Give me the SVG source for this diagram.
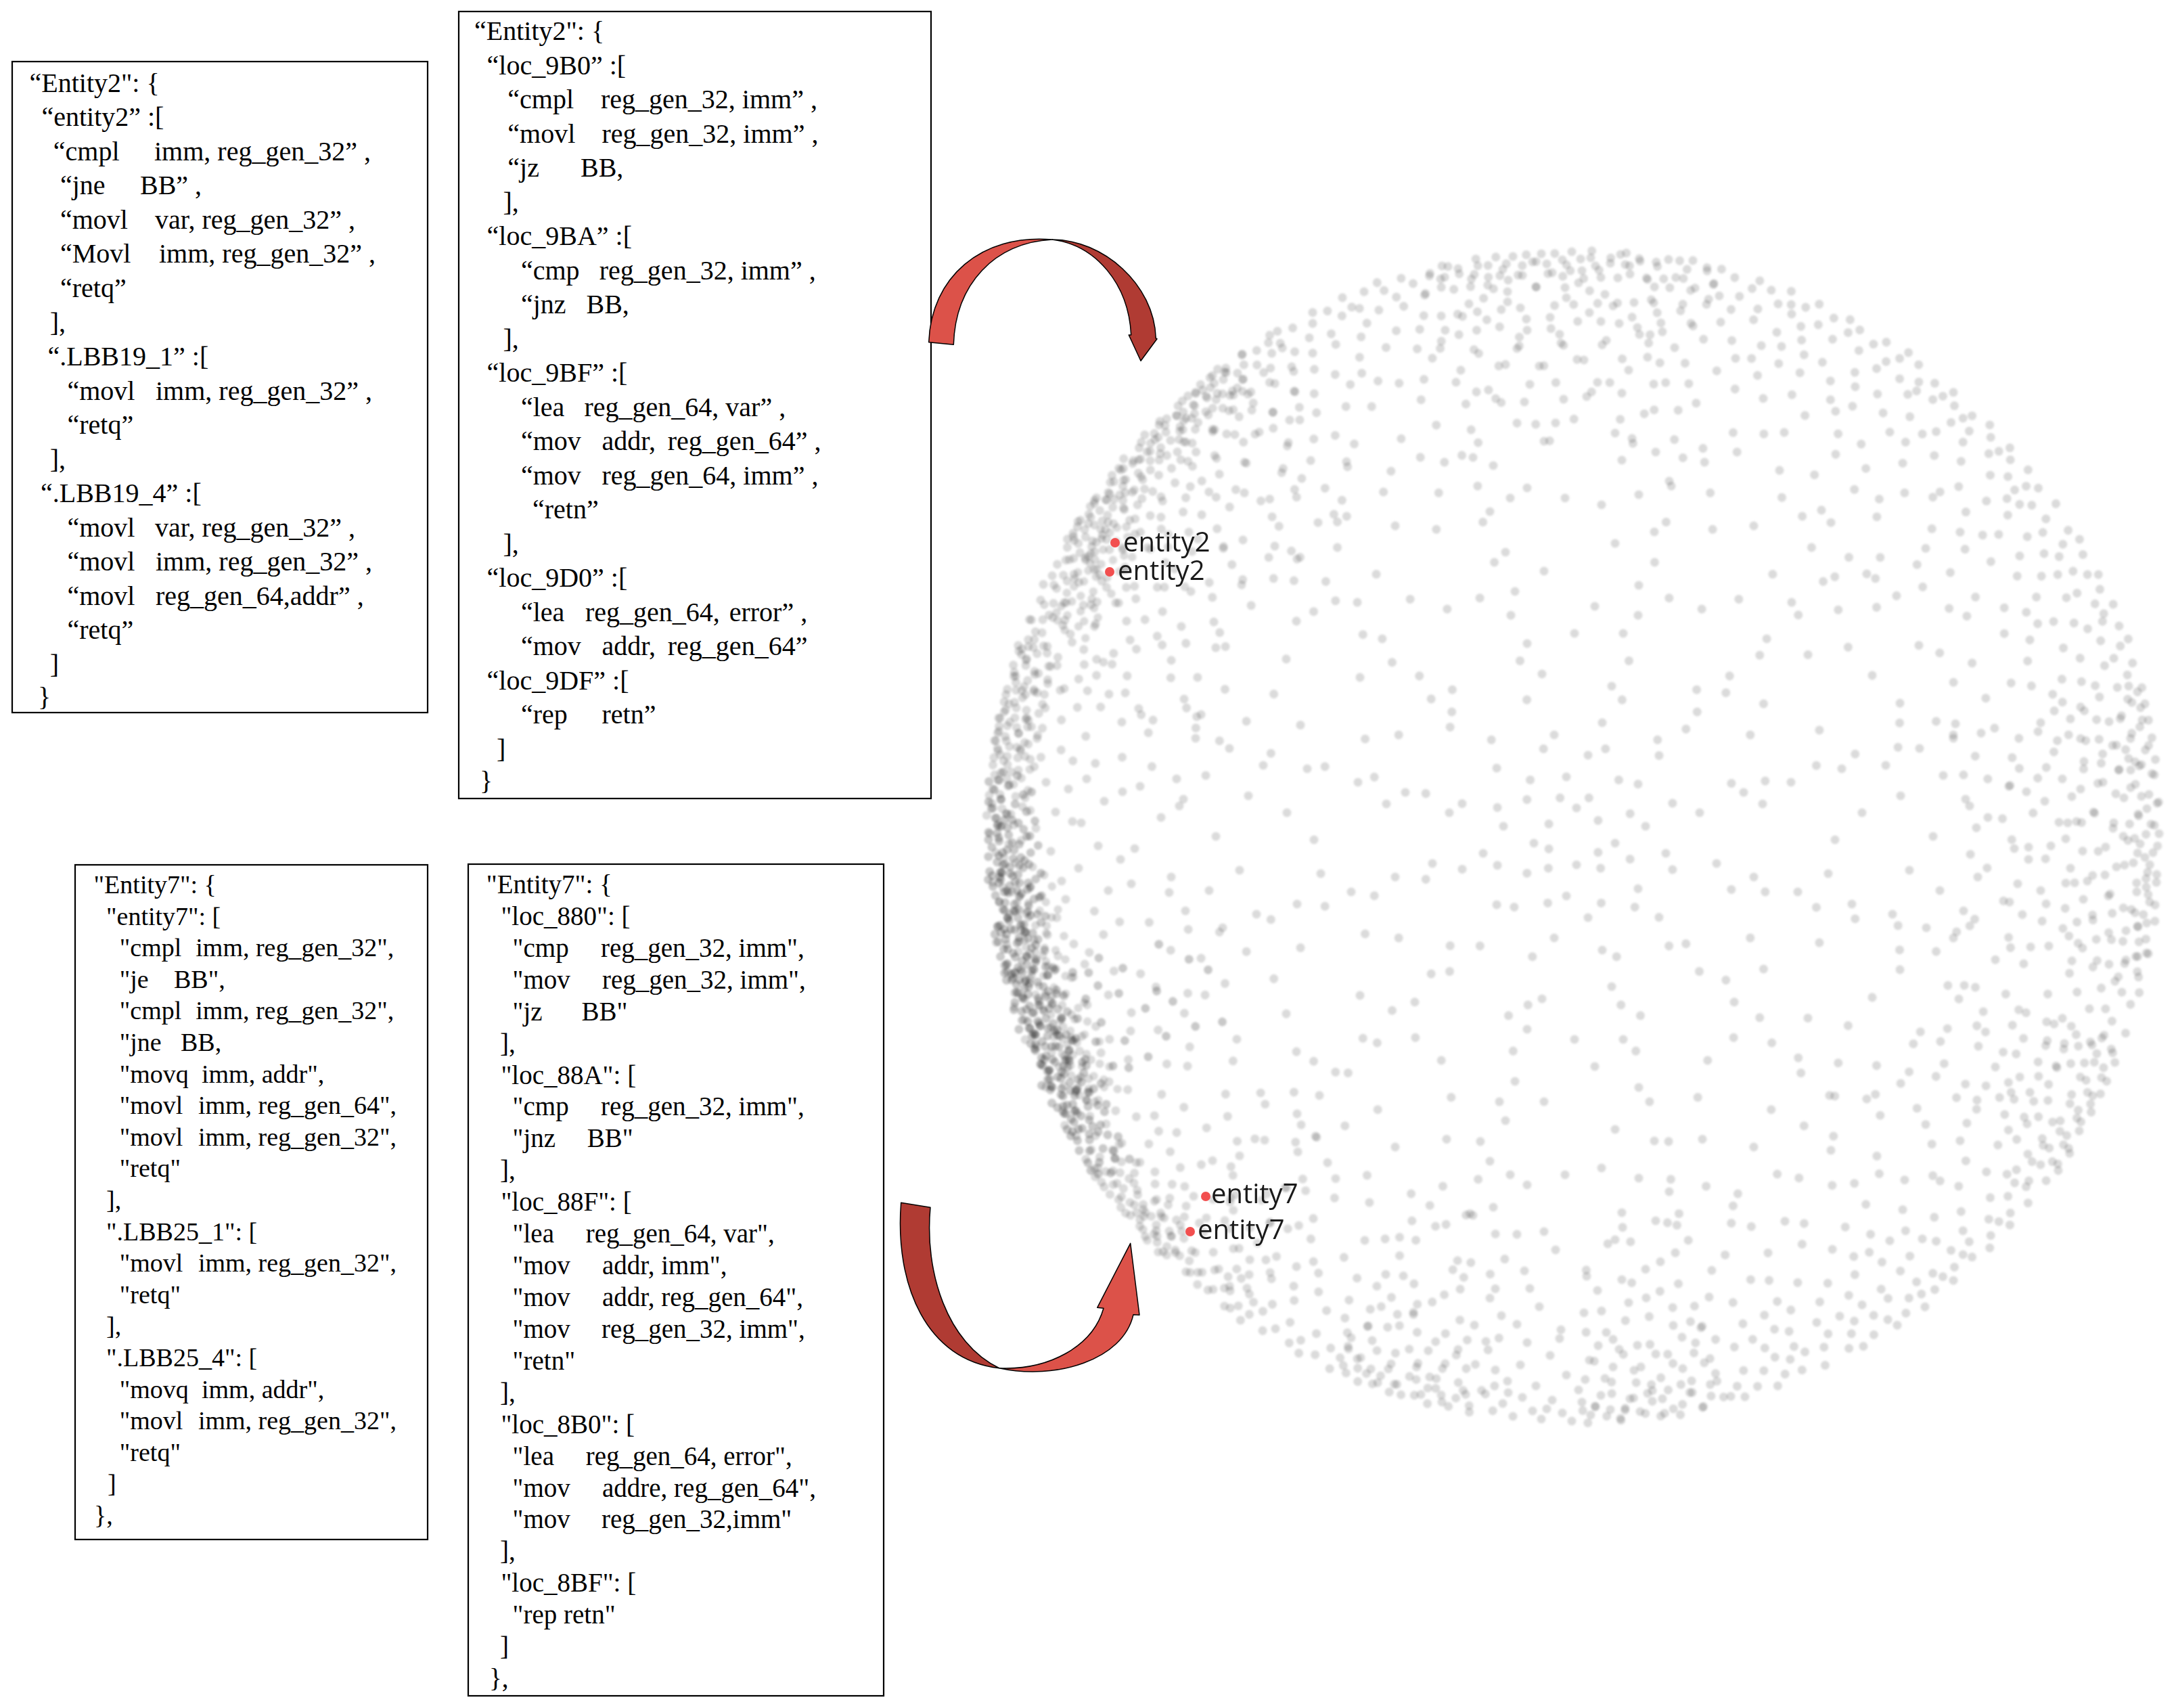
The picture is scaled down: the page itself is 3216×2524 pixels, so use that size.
<svg xmlns="http://www.w3.org/2000/svg" width="3216" height="2524" viewBox="0 0 3216 2524">
<style>
.box{fill:#fff;stroke:#000;stroke-width:2.2}
.s40{font-family:"Liberation Serif","Times New Roman",serif;font-size:40px;fill:#000}
.s38{font-family:"Liberation Serif","Times New Roman",serif;font-size:38px;fill:#000}
.s39{font-family:"Liberation Serif","Times New Roman",serif;font-size:39px;fill:#000}
.lbl{font-family:"Open Sans","Noto Sans",sans-serif;font-size:40px;fill:#1a1a1a}
.red{fill:#f24f4f}
.arL{fill:#DC5249;stroke:#000;stroke-width:1.5;stroke-linejoin:round}
.arD{fill:#B03B33;stroke:#000;stroke-width:1.5;stroke-linejoin:round}
</style>
<defs>
<filter id="soft" x="-5%" y="-5%" width="110%" height="110%"><feGaussianBlur stdDeviation="1.4"/></filter>
<g id="R1">
<circle cx="-106" cy="-838" r="6.5"/><circle cx="-91" cy="-857" r="6.5"/><circle cx="-77" cy="-829" r="6.5"/><circle cx="-62" cy="-849" r="6.5"/><circle cx="-49" cy="-861" r="6.5"/><circle cx="-33" cy="-833" r="6.5"/><circle cx="-18" cy="-852" r="6.5"/><circle cx="-4" cy="-864" r="6.5"/><circle cx="11" cy="-836" r="6.5"/><circle cx="24" cy="-855" r="6.5"/><circle cx="39" cy="-826" r="6.5"/><circle cx="53" cy="-847" r="6.5"/><circle cx="68" cy="-860" r="6.5"/><circle cx="82" cy="-831" r="6.5"/><circle cx="97" cy="-850" r="6.5"/><circle cx="108" cy="-823" r="6.5"/><circle cx="-98" cy="-822" r="6.5"/><circle cx="-41" cy="-846" r="6.5"/><circle cx="31" cy="-843" r="6.5"/><circle cx="75" cy="-845" r="6.5"/>
<circle cx="-99" cy="-805" r="6.5"/><circle cx="-80" cy="-781" r="6.5"/><circle cx="-57" cy="-812" r="6.5"/><circle cx="-36" cy="-767" r="6.5"/><circle cx="-12" cy="-796" r="6.5"/><circle cx="6" cy="-818" r="6.5"/><circle cx="22" cy="-774" r="6.5"/><circle cx="45" cy="-801" r="6.5"/><circle cx="66" cy="-758" r="6.5"/><circle cx="88" cy="-789" r="6.5"/><circle cx="-70" cy="-748" r="6.5"/><circle cx="-22" cy="-742" r="6.5"/><circle cx="57" cy="-784" r="6.5"/><circle cx="93" cy="-752" r="6.5"/>
<circle cx="-85" cy="-721" r="6.5"/><circle cx="-52" cy="-695" r="6.5"/><circle cx="-20" cy="-729" r="6.5"/><circle cx="14" cy="-704" r="6.5"/><circle cx="47" cy="-733" r="6.5"/><circle cx="80" cy="-689" r="6.5"/><circle cx="-66" cy="-668" r="6.5"/><circle cx="34" cy="-671" r="6.5"/>
<circle cx="-74" cy="-642" r="6.5"/><circle cx="-28" cy="-611" r="6.5"/><circle cx="18" cy="-650" r="6.5"/><circle cx="60" cy="-596" r="6.5"/><circle cx="-45" cy="-584" r="6.5"/><circle cx="70" cy="-655" r="6.5"/>
</g>
<g id="R2">
<circle cx="-103" cy="-851" r="6.5"/><circle cx="-86" cy="-830" r="6.5"/><circle cx="-70" cy="-862" r="6.5"/><circle cx="-58" cy="-838" r="6.5"/><circle cx="-43" cy="-824" r="6.5"/><circle cx="-27" cy="-858" r="6.5"/><circle cx="-13" cy="-841" r="6.5"/><circle cx="0" cy="-827" r="6.5"/><circle cx="15" cy="-859" r="6.5"/><circle cx="29" cy="-834" r="6.5"/><circle cx="44" cy="-850" r="6.5"/><circle cx="60" cy="-823" r="6.5"/><circle cx="72" cy="-855" r="6.5"/><circle cx="87" cy="-838" r="6.5"/><circle cx="101" cy="-861" r="6.5"/><circle cx="-7" cy="-866" r="6.5"/><circle cx="52" cy="-864" r="6.5"/><circle cx="106" cy="-842" r="6.5"/><circle cx="-96" cy="-815" r="6.5"/><circle cx="22" cy="-812" r="6.5"/>
<circle cx="-91" cy="-792" r="6.5"/><circle cx="-73" cy="-766" r="6.5"/><circle cx="-49" cy="-801" r="6.5"/><circle cx="-30" cy="-777" r="6.5"/><circle cx="-6" cy="-759" r="6.5"/><circle cx="12" cy="-790" r="6.5"/><circle cx="35" cy="-768" r="6.5"/><circle cx="58" cy="-806" r="6.5"/><circle cx="79" cy="-772" r="6.5"/><circle cx="96" cy="-797" r="6.5"/><circle cx="-84" cy="-745" r="6.5"/><circle cx="-15" cy="-810" r="6.5"/><circle cx="47" cy="-744" r="6.5"/><circle cx="70" cy="-750" r="6.5"/>
<circle cx="-79" cy="-712" r="6.5"/><circle cx="-44" cy="-736" r="6.5"/><circle cx="-10" cy="-690" r="6.5"/><circle cx="25" cy="-719" r="6.5"/><circle cx="58" cy="-700" r="6.5"/><circle cx="85" cy="-728" r="6.5"/><circle cx="-60" cy="-676" r="6.5"/><circle cx="8" cy="-665" r="6.5"/>
<circle cx="-62" cy="-630" r="6.5"/><circle cx="-15" cy="-648" r="6.5"/><circle cx="35" cy="-603" r="6.5"/><circle cx="72" cy="-637" r="6.5"/><circle cx="-70" cy="-590" r="6.5"/><circle cx="10" cy="-582" r="6.5"/>
</g>
<g id="R3">
<circle cx="-108" cy="-829" r="6.5"/><circle cx="-95" cy="-848" r="6.5"/><circle cx="-80" cy="-862" r="6.5"/><circle cx="-66" cy="-835" r="6.5"/><circle cx="-51" cy="-855" r="6.5"/><circle cx="-37" cy="-827" r="6.5"/><circle cx="-22" cy="-847" r="6.5"/><circle cx="-9" cy="-859" r="6.5"/><circle cx="5" cy="-832" r="6.5"/><circle cx="19" cy="-851" r="6.5"/><circle cx="34" cy="-863" r="6.5"/><circle cx="48" cy="-838" r="6.5"/><circle cx="63" cy="-852" r="6.5"/><circle cx="78" cy="-826" r="6.5"/><circle cx="92" cy="-858" r="6.5"/><circle cx="105" cy="-836" r="6.5"/><circle cx="-87" cy="-820" r="6.5"/><circle cx="-29" cy="-865" r="6.5"/><circle cx="41" cy="-822" r="6.5"/><circle cx="70" cy="-866" r="6.5"/>
<circle cx="-97" cy="-780" r="6.5"/><circle cx="-76" cy="-803" r="6.5"/><circle cx="-54" cy="-760" r="6.5"/><circle cx="-33" cy="-790" r="6.5"/><circle cx="-9" cy="-772" r="6.5"/><circle cx="16" cy="-801" r="6.5"/><circle cx="38" cy="-756" r="6.5"/><circle cx="61" cy="-790" r="6.5"/><circle cx="82" cy="-770" r="6.5"/><circle cx="100" cy="-812" r="6.5"/><circle cx="-62" cy="-786" r="6.5"/><circle cx="5" cy="-748" r="6.5"/><circle cx="27" cy="-783" r="6.5"/><circle cx="-88" cy="-756" r="6.5"/>
<circle cx="-82" cy="-700" r="6.5"/><circle cx="-48" cy="-726" r="6.5"/><circle cx="-16" cy="-709" r="6.5"/><circle cx="20" cy="-737" r="6.5"/><circle cx="52" cy="-682" r="6.5"/><circle cx="77" cy="-714" r="6.5"/><circle cx="-30" cy="-672" r="6.5"/><circle cx="40" cy="-710" r="6.5"/>
<circle cx="-55" cy="-655" r="6.5"/><circle cx="-8" cy="-620" r="6.5"/><circle cx="40" cy="-640" r="6.5"/><circle cx="75" cy="-600" r="6.5"/><circle cx="-76" cy="-612" r="6.5"/><circle cx="15" cy="-587" r="6.5"/>
</g>
<g id="D">
<circle cx="-88" cy="-842" r="6.5"/><circle cx="-80" cy="-859" r="6.5"/><circle cx="-73" cy="-826" r="6.5"/><circle cx="-66" cy="-849" r="6.5"/><circle cx="-58" cy="-864" r="6.5"/><circle cx="-51" cy="-834" r="6.5"/><circle cx="-44" cy="-853" r="6.5"/><circle cx="-37" cy="-818" r="6.5"/><circle cx="-30" cy="-845" r="6.5"/><circle cx="-22" cy="-861" r="6.5"/><circle cx="-15" cy="-831" r="6.5"/><circle cx="-8" cy="-851" r="6.5"/><circle cx="0" cy="-866" r="6.5"/><circle cx="7" cy="-838" r="6.5"/><circle cx="14" cy="-822" r="6.5"/><circle cx="21" cy="-856" r="6.5"/><circle cx="28" cy="-840" r="6.5"/><circle cx="35" cy="-862" r="6.5"/><circle cx="42" cy="-827" r="6.5"/><circle cx="49" cy="-848" r="6.5"/>
<circle cx="56" cy="-815" r="6.5"/><circle cx="63" cy="-858" r="6.5"/><circle cx="70" cy="-836" r="6.5"/><circle cx="77" cy="-851" r="6.5"/><circle cx="84" cy="-824" r="6.5"/><circle cx="89" cy="-845" r="6.5"/><circle cx="-84" cy="-808" r="6.5"/><circle cx="-47" cy="-806" r="6.5"/><circle cx="-5" cy="-805" r="6.5"/><circle cx="31" cy="-810" r="6.5"/><circle cx="60" cy="-803" r="6.5"/><circle cx="-62" cy="-822" r="6.5"/><circle cx="18" cy="-843" r="6.5"/><circle cx="-26" cy="-828" r="6.5"/><circle cx="45" cy="-866" r="6.5"/><circle cx="-11" cy="-866" r="6.5"/><circle cx="75" cy="-866" r="6.5"/><circle cx="-70" cy="-866" r="6.5"/><circle cx="-36" cy="-866" r="6.5"/><circle cx="10" cy="-853" r="6.5"/>
</g>
<g id="I1">
<circle cx="3" cy="-42" r="6.5"/><circle cx="-12" cy="-88" r="6.5"/><circle cx="20" cy="-120" r="6.5"/><circle cx="-30" cy="-150" r="6.5"/><circle cx="41" cy="-168" r="6.5"/><circle cx="55" cy="-222" r="6.5"/><circle cx="-48" cy="-240" r="6.5"/><circle cx="-70" cy="-285" r="6.5"/><circle cx="72" cy="-300" r="6.5"/><circle cx="30" cy="-340" r="6.5"/><circle cx="-88" cy="-362" r="6.5"/><circle cx="95" cy="-371" r="6.5"/><circle cx="-45" cy="-392" r="6.5"/><circle cx="-102" cy="-420" r="6.5"/><circle cx="60" cy="-433" r="6.5"/>
<circle cx="118" cy="-450" r="6.5"/><circle cx="-125" cy="-480" r="6.5"/><circle cx="40" cy="-490" r="6.5"/><circle cx="95" cy="-505" r="6.5"/><circle cx="-70" cy="-515" r="6.5"/><circle cx="140" cy="-525" r="6.5"/><circle cx="-120" cy="-548" r="6.5"/><circle cx="70" cy="-556" r="6.5"/><circle cx="-150" cy="-560" r="6.5"/><circle cx="120" cy="-568" r="6.5"/><circle cx="-95" cy="-500" r="6.5"/><circle cx="-14" cy="-500" r="6.5"/><circle cx="0" cy="-300" r="6.5"/>
</g>
<g id="I2">
<circle cx="-10" cy="-60" r="6.5"/><circle cx="15" cy="-105" r="6.5"/><circle cx="-25" cy="-135" r="6.5"/><circle cx="35" cy="-185" r="6.5"/><circle cx="-40" cy="-210" r="6.5"/><circle cx="-60" cy="-265" r="6.5"/><circle cx="48" cy="-278" r="6.5"/><circle cx="80" cy="-320" r="6.5"/><circle cx="-82" cy="-330" r="6.5"/><circle cx="-55" cy="-375" r="6.5"/><circle cx="100" cy="-395" r="6.5"/><circle cx="-100" cy="-410" r="6.5"/><circle cx="35" cy="-425" r="6.5"/><circle cx="105" cy="-460" r="6.5"/><circle cx="-115" cy="-470" r="6.5"/>
<circle cx="60" cy="-482" r="6.5"/><circle cx="-50" cy="-495" r="6.5"/><circle cx="130" cy="-510" r="6.5"/><circle cx="-135" cy="-520" r="6.5"/><circle cx="-80" cy="-540" r="6.5"/><circle cx="90" cy="-545" r="6.5"/><circle cx="145" cy="-560" r="6.5"/><circle cx="-110" cy="-575" r="6.5"/><circle cx="55" cy="-578" r="6.5"/><circle cx="65" cy="-250" r="6.5"/><circle cx="-5" cy="-385" r="6.5"/><circle cx="0" cy="-530" r="6.5"/>
</g>
</defs>

<g id="box1">
<rect class="box" x="18" y="91" width="614" height="962"/>
<g class="s40">
<text x="43.5" y="135.6">“Entity2":  {</text>
<text x="61.4" y="186.2">“entity2” :[</text>
<text x="78.8" y="236.7">“cmpl<tspan x="228">imm, reg_gen_32” ,</tspan></text>
<text x="89" y="287.3">“jne<tspan x="207">BB” ,</tspan></text>
<text x="89" y="337.8">“movl<tspan x="229">var, reg_gen_32” ,</tspan></text>
<text x="89" y="388.4">“Movl<tspan x="235">imm, reg_gen_32” ,</tspan></text>
<text x="89" y="438.9">“retq”</text>
<text x="73.8" y="489.5">],</text>
<text x="70.5" y="540">“.LBB19_1” :[</text>
<text x="99.5" y="590.6">“movl<tspan x="230">imm, reg_gen_32” ,</tspan></text>
<text x="99.5" y="641.1">“retq”</text>
<text x="73.8" y="691.7">],</text>
<text x="60" y="742.2">“.LBB19_4” :[</text>
<text x="99.5" y="792.8">“movl<tspan x="229">var, reg_gen_32” ,</tspan></text>
<text x="99.5" y="843.3">“movl<tspan x="230">imm, reg_gen_32” ,</tspan></text>
<text x="99.5" y="893.9">“movl<tspan x="230">reg_gen_64,addr” ,</tspan></text>
<text x="99.5" y="944.4">“retq”</text>
<text x="73.8" y="995">]</text>
<text x="56" y="1043">}</text>
</g>
</g>

<g id="box2">
<rect class="box" x="678" y="17" width="698" height="1163"/>
<g class="s40">
<text x="701" y="59.3">“Entity2":  {</text>
<text x="719.6" y="109.8">“loc_9B0”  :[</text>
<text x="750.3" y="160.3">“cmpl<tspan x="888">reg_gen_32, imm” ,</tspan></text>
<text x="750.3" y="210.8">“movl<tspan x="889.5">reg_gen_32, imm” ,</tspan></text>
<text x="750.3" y="261.3">“jz<tspan x="858">BB,</tspan></text>
<text x="743.5" y="311.8">],</text>
<text x="719.6" y="362.3">“loc_9BA”  :[</text>
<text x="770" y="412.8">“cmp<tspan x="885.8">reg_gen_32, imm” ,</tspan></text>
<text x="770" y="463.3">“jnz<tspan x="866.5">BB,</tspan></text>
<text x="743.5" y="513.8">],</text>
<text x="719.6" y="564.3">“loc_9BF”  :[</text>
<text x="770" y="614.8">“lea<tspan x="863.5">reg_gen_64, var” ,</tspan></text>
<text x="770" y="665.3">“mov<tspan x="889.5">addr,</tspan><tspan x="986.8">reg_gen_64” ,</tspan></text>
<text x="770" y="715.8">“mov<tspan x="889.5">reg_gen_64, imm” ,</tspan></text>
<text x="787" y="766.3">“retn”</text>
<text x="743.5" y="816.8">],</text>
<text x="719.6" y="867.3">“loc_9D0”  :[</text>
<text x="770" y="917.8">“lea<tspan x="865">reg_gen_64,</tspan><tspan x="1077.7">error” ,</tspan></text>
<text x="770" y="968.3">“mov<tspan x="889.5">addr,</tspan><tspan x="986.8">reg_gen_64”</tspan></text>
<text x="719.6" y="1018.8">“loc_9DF”  :[</text>
<text x="770" y="1069.3">“rep<tspan x="889.5">retn”</tspan></text>
<text x="734" y="1119.8">]</text>
<text x="709" y="1167">}</text>
</g>
</g>

<g id="box3">
<rect class="box" x="111" y="1278" width="521" height="997"/>
<g class="s38">
<text x="138.6" y="1320">"Entity7": {</text>
<text x="157" y="1366.6">"entity7": [</text>
<text x="176.8" y="1413.2">"cmpl<tspan x="289.3">imm, reg_gen_32",</tspan></text>
<text x="176.8" y="1459.8">"je<tspan x="257">BB",</tspan></text>
<text x="176.8" y="1506.4">"cmpl<tspan x="289.3">imm, reg_gen_32",</tspan></text>
<text x="176.8" y="1553">"jne<tspan x="267">BB,</tspan></text>
<text x="176.8" y="1599.6">"movq<tspan x="298">imm, addr",</tspan></text>
<text x="176.8" y="1646.2">"movl<tspan x="292.9">imm, reg_gen_64",</tspan></text>
<text x="176.8" y="1692.8">"movl<tspan x="292.9">imm, reg_gen_32",</tspan></text>
<text x="176.8" y="1739.4">"retq"</text>
<text x="157" y="1786">],</text>
<text x="157" y="1832.6">".LBB25_1": [</text>
<text x="176.8" y="1879.2">"movl<tspan x="292.9">imm, reg_gen_32",</tspan></text>
<text x="176.8" y="1925.8">"retq"</text>
<text x="157" y="1972.4">],</text>
<text x="157" y="2019">".LBB25_4": [</text>
<text x="176.8" y="2065.6">"movq<tspan x="298">imm, addr",</tspan></text>
<text x="176.8" y="2112.2">"movl<tspan x="292.9">imm, reg_gen_32",</tspan></text>
<text x="176.8" y="2158.8">"retq"</text>
<text x="159" y="2205.4">]</text>
<text x="139" y="2252">},</text>
</g>
</g>

<g id="box4">
<rect class="box" x="692" y="1277" width="614" height="1229"/>
<g class="s39">
<text x="718.8" y="1320">"Entity7": {</text>
<text x="740.4" y="1366.9">"loc_880": [</text>
<text x="757.6" y="1413.8">"cmp<tspan x="888">reg_gen_32, imm",</tspan></text>
<text x="757.6" y="1460.8">"mov<tspan x="890">reg_gen_32, imm",</tspan></text>
<text x="757.6" y="1507.7">"jz<tspan x="859.6">BB"</tspan></text>
<text x="739" y="1554.6">],</text>
<text x="740.4" y="1601.5">"loc_88A": [</text>
<text x="757.6" y="1648.4">"cmp<tspan x="888">reg_gen_32, imm",</tspan></text>
<text x="757.6" y="1695.4">"jnz<tspan x="867.8">BB"</tspan></text>
<text x="739" y="1742.3">],</text>
<text x="740.4" y="1789.2">"loc_88F": [</text>
<text x="757.6" y="1836.1">"lea<tspan x="865.7">reg_gen_64, var",</tspan></text>
<text x="757.6" y="1883">"mov<tspan x="890">addr, imm",</tspan></text>
<text x="757.6" y="1930">"mov<tspan x="890">addr, reg_gen_64",</tspan></text>
<text x="757.6" y="1976.9">"mov<tspan x="889">reg_gen_32, imm",</tspan></text>
<text x="757.6" y="2023.8">"retn"</text>
<text x="739" y="2070.7">],</text>
<text x="740.4" y="2117.6">"loc_8B0": [</text>
<text x="757.6" y="2164.6">"lea<tspan x="865.7">reg_gen_64, error",</tspan></text>
<text x="757.6" y="2211.5">"mov<tspan x="890">addre, reg_gen_64",</tspan></text>
<text x="757.6" y="2258.4">"mov<tspan x="889">reg_gen_32,imm"</tspan></text>
<text x="739" y="2305.3">],</text>
<text x="740.4" y="2352.2">"loc_8BF": [</text>
<text x="757.6" y="2399.2">"rep retn"</text>
<text x="739" y="2446.1">]</text>
<text x="723" y="2493">},</text>
</g>
</g>

<g id="scatter">
<g transform="translate(2327,1236)" fill="#000" filter="url(#soft)">
<g fill-opacity="0.14">
<use href="#I1"/><use href="#I2" transform="rotate(30)"/><use href="#I1" transform="rotate(60) scale(-1,1)"/><use href="#I2" transform="rotate(90) scale(-1,1)"/><use href="#I1" transform="rotate(120)"/><use href="#I2" transform="rotate(150)"/><use href="#I1" transform="rotate(180) scale(-1,1)"/><use href="#I2" transform="rotate(210) scale(-1,1)"/><use href="#I1" transform="rotate(240)"/><use href="#I2" transform="rotate(270)"/><use href="#I1" transform="rotate(300) scale(-1,1)"/><use href="#I2" transform="rotate(330) scale(-1,1)"/>
<use href="#R1"/><use href="#R2" transform="rotate(15)"/><use href="#R3" transform="rotate(30)"/><use href="#R1" transform="rotate(45) scale(-1,1)"/><use href="#R2" transform="rotate(60)"/><use href="#R3" transform="rotate(75) scale(-1,1)"/><use href="#R1" transform="rotate(90)"/><use href="#R2" transform="rotate(105) scale(-1,1)"/><use href="#R3" transform="rotate(120)"/><use href="#R1" transform="rotate(135)"/><use href="#R2" transform="rotate(150) scale(-1,1)"/><use href="#R3" transform="rotate(165)"/><use href="#R1" transform="rotate(180) scale(-1,1)"/><use href="#R2" transform="rotate(195)"/><use href="#R3" transform="rotate(210)"/><use href="#R1" transform="rotate(225)"/><use href="#R2" transform="rotate(240) scale(-1,1)"/><use href="#R3" transform="rotate(255)"/><use href="#R1" transform="rotate(270) scale(-1,1)"/><use href="#R2" transform="rotate(285)"/><use href="#R3" transform="rotate(300) scale(-1,1)"/><use href="#R1" transform="rotate(315)"/><use href="#R2" transform="rotate(330)"/><use href="#R3" transform="rotate(345) scale(-1,1)"/>
<use href="#R1" transform="rotate(292)"/><use href="#R3" transform="rotate(307) scale(-1,1)"/><use href="#R2" transform="rotate(322)"/><use href="#R1" transform="rotate(352) scale(-1,1)"/><use href="#R3" transform="rotate(7)"/><use href="#R2" transform="rotate(82) scale(-1,1)"/><use href="#R1" transform="rotate(97)"/><use href="#R3" transform="rotate(118)"/><use href="#R2" transform="rotate(172)"/><use href="#R1" transform="rotate(197) scale(-1,1)"/><use href="#R3" transform="rotate(222)"/>
</g>
<g fill-opacity="0.21">
<use href="#D" transform="rotate(240)"/><use href="#D" transform="rotate(244.5) scale(-0.99,0.99)"/><use href="#D" transform="rotate(251.3) scale(0.985)"/><use href="#D" transform="rotate(255.8) scale(-1,1)"/><use href="#D" transform="rotate(261.2) scale(0.992)"/><use href="#D" transform="rotate(265.7) scale(-0.982,0.982)"/><use href="#D" transform="rotate(270.4)"/>
<use href="#R2" transform="rotate(249) scale(0.99)"/>
</g>
<g fill-opacity="0.14">
<use href="#D" transform="rotate(247) scale(0.95)"/><use href="#D" transform="rotate(258.6) scale(-0.955,0.955)"/>
<use href="#D" transform="rotate(230) scale(-1,1)"/><use href="#D" transform="rotate(277) scale(-1,1)"/><use href="#D" transform="rotate(284)"/><use href="#D" transform="rotate(305)"/><use href="#D" transform="rotate(318) scale(-1,1)"/><use href="#D" transform="rotate(298) scale(0.96)"/>
</g>
</g>
<circle class="red" cx="1648" cy="802" r="7"/>
<circle class="red" cx="1640" cy="845" r="7"/>
<circle class="red" cx="1782" cy="1768" r="7"/>
<circle class="red" cx="1759" cy="1820" r="7"/>
<text class="lbl" x="1660" y="815">entity2</text>
<text class="lbl" x="1652" y="857">entity2</text>
<text class="lbl" x="1790" y="1778">entity7</text>
<text class="lbl" x="1770" y="1831">entity7</text>
</g>

<g id="connectors">
<path class="arL" d="M1372.7,505.7 C1376,410 1450,345 1555,354 C1470,358 1412,420 1409.3,509.3 Z"/>
<path class="arD" d="M1555,354 C1630,354 1706,420 1708.3,500 L1710,500.7 L1686,533.3 L1668.3,495 L1671.7,495 C1668,420 1620,362 1555,354 Z"/>
<path class="arD" d="M1331.7,1777.3 L1375,1784.3 C1366,1880 1400,1985 1476.7,2021.7 C1370,2010 1322,1900 1331.7,1777.3 Z"/>
<path class="arL" d="M1476.7,2021.7 C1560,2040 1660,2010 1675,1942.7 L1684,1943.3 L1670.7,1837.3 L1621.7,1932.3 L1631,1933.3 C1615,1990 1550,2025 1476.7,2021.7 Z"/>
</g>
</svg>
